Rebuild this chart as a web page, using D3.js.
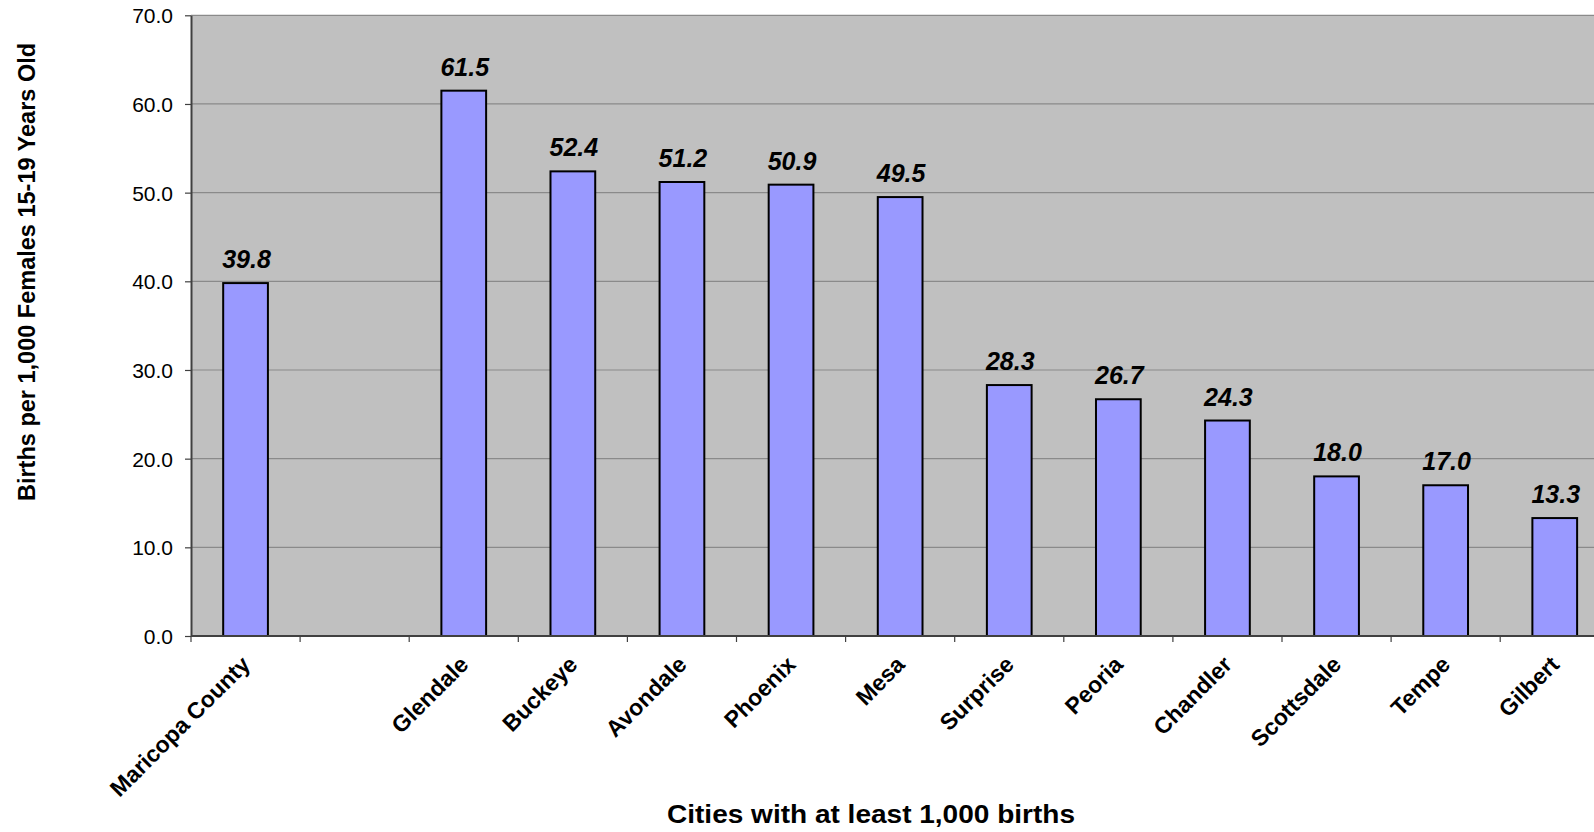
<!DOCTYPE html>
<html>
<head>
<meta charset="utf-8">
<script src="https://cdn.jsdelivr.net/npm/d3@7"></script>
<style>
  html, body { margin: 0; padding: 0; background: #ffffff; }
  svg { display: block; font-family: "Liberation Sans", Arial, sans-serif; }
</style>
</head>
<body>
<svg id="chart" width="1594" height="832"></svg>
<script>
// ---- data ----
const categories = ["Maricopa County", " ", "Glendale", "Buckeye", "Avondale", "Phoenix", "Mesa",
                    "Surprise", "Peoria", "Chandler", "Scottsdale", "Tempe", "Gilbert"];
const values = [39.8, null, 61.5, 52.4, 51.2, 50.9, 49.5, 28.3, 26.7, 24.3, 18.0, 17.0, 13.3];
const yTicks = [0, 10, 20, 30, 40, 50, 60, 70];
const yTitle = "Births per 1,000 Females 15-19 Years Old";
const xTitle = "Cities with at least 1,000 births";

// ---- layout ----
const svg = d3.select("#chart");
const plotL = 191, plotT = 15.3, plotB = 636, plotR = 1609.3;

const x = d3.scaleBand()
  .domain(categories)
  .range([plotL, plotR])
  .paddingInner(0.59)
  .paddingOuter(0.295);
const step = x.step();

const y = d3.scaleLinear().domain([0, 70]).range([plotB, plotT]);

// plot background
svg.append("rect")
  .attr("x", plotL).attr("y", plotT)
  .attr("width", plotR - plotL).attr("height", plotB - plotT)
  .attr("fill", "#c0c0c0");

// gridlines
svg.append("g").selectAll("line")
  .data(yTicks.filter(d => d > 0))
  .join("line")
  .attr("x1", plotL).attr("x2", plotR)
  .attr("y1", d => y(d)).attr("y2", d => y(d))
  .attr("stroke", "#8a8a8a").attr("stroke-width", 1.2);

// bars
const data = categories.map((c, i) => ({ c, v: values[i] })).filter(d => d.v != null);
svg.append("g").selectAll("rect")
  .data(data)
  .join("rect")
  .attr("x", d => x(d.c))
  .attr("y", d => y(d.v))
  .attr("width", x.bandwidth())
  .attr("height", d => y(0) - y(d.v))
  .attr("fill", "#9999ff")
  .attr("stroke", "#000")
  .attr("stroke-width", 2);

// value labels
svg.append("g").selectAll("text")
  .data(data)
  .join("text")
  .attr("x", d => x(d.c) + x.bandwidth() / 2 + 1)
  .attr("y", d => y(d.v) - 15)
  .attr("text-anchor", "middle")
  .attr("font-size", 25)
  .attr("font-weight", "bold")
  .attr("font-style", "italic")
  .attr("fill", "#000")
  .text(d => d3.format(".1f")(d.v));

// y axis
const yAxis = d3.axisLeft(y)
  .tickValues(yTicks)
  .tickFormat(d3.format(".1f"))
  .tickSize(6)
  .tickSizeOuter(0)
  .tickPadding(12);
const gy = svg.append("g").attr("transform", `translate(${plotL},0)`).call(yAxis);
gy.select(".domain").attr("stroke", "#404040").attr("stroke-width", 2);
gy.selectAll(".tick line").attr("stroke", "#404040").attr("stroke-width", 1.2);
gy.selectAll(".tick text")
  .attr("font-size", 21)
  .attr("font-family", "Liberation Sans, Arial, sans-serif")
  .attr("fill", "#000")
  .attr("dy", "0.36em");

// x axis line
svg.append("line")
  .attr("x1", plotL).attr("x2", plotR)
  .attr("y1", plotB).attr("y2", plotB)
  .attr("stroke", "#404040").attr("stroke-width", 2);

// x ticks at slot boundaries
svg.append("g").selectAll("line")
  .data(d3.range(categories.length + 1))
  .join("line")
  .attr("x1", i => plotL + i * step).attr("x2", i => plotL + i * step)
  .attr("y1", plotB).attr("y2", plotB + 6)
  .attr("stroke", "#404040").attr("stroke-width", 1.2);

// x category labels
svg.append("g").selectAll("text")
  .data(categories)
  .join("text")
  .attr("transform", c => `translate(${x(c) + x.bandwidth() / 2 + 6},${plotB + 30}) rotate(-45)`)
  .attr("text-anchor", "end")
  .attr("font-size", 23)
  .attr("font-weight", "bold")
  .attr("fill", "#000")
  .text(c => c.trim());

// axis titles
svg.append("text")
  .attr("transform", `translate(35,272) rotate(-90)`)
  .attr("text-anchor", "middle")
  .attr("font-size", 23.5)
  .attr("font-weight", "bold")
  .text(yTitle);

svg.append("text")
  .attr("x", 871).attr("y", 823)
  .attr("text-anchor", "middle")
  .attr("font-size", 25)
  .attr("font-weight", "bold")
  .attr("textLength", 408)
  .attr("lengthAdjust", "spacingAndGlyphs")
  .text(xTitle);
</script>
</body>
</html>
